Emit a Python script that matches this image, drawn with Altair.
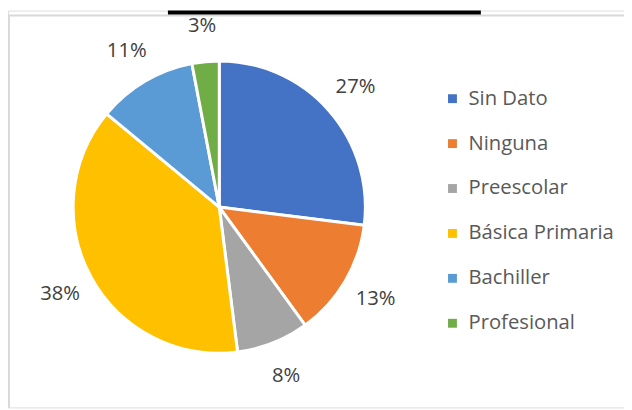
import altair as alt
import pandas as pd

categories = ["Sin Dato", "Ninguna", "Preescolar", "Básica Primaria", "Bachiller", "Profesional"]
values = [27, 13, 8, 38, 11, 3]
labels = ["27%", "13%", "8%", "38%", "11%", "3%"]
colors = ["#4472C4", "#ED7D31", "#A5A5A5", "#FFC000", "#5B9BD5", "#70AD47"]

df = pd.DataFrame({
    "cat": categories,
    "value": values,
    "label": labels,
    "idx": list(range(len(categories))),
})

W, H = 624, 402
CX, CY = 214, 199
FONT = "Open Sans"
FS = 20.5

base = alt.Chart(df).encode(
    theta=alt.Theta("value:Q", stack=True),
    order=alt.Order("idx:Q", sort="ascending"),
)

pie = base.mark_arc(outerRadius=148, stroke="white", strokeWidth=3).encode(
    x=alt.value(CX), y=alt.value(CY),
    color=alt.Color(
        "cat:N",
        scale=alt.Scale(domain=categories, range=colors),
        sort=categories,
        legend=alt.Legend(
            title=None, orient="none", legendX=440, legendY=79,
            symbolType="square", symbolSize=81, symbolStrokeWidth=0,
            labelFont=FONT, labelFontSize=FS, labelColor="#595959",
            rowPadding=24.5, labelOffset=6, padding=0,
        ),
    ),
)

text = base.mark_text(font=FONT, fontSize=FS, color="#404040", baseline="middle", align="center").encode(
    x=alt.value(CX), y=alt.value(CY),
    radius=alt.value(184),
    text="label:N",
)

deco = pd.DataFrame({"k": [0]})
bar = alt.Chart(deco).mark_rect(color="black").encode(
    x=alt.value(162), x2=alt.value(479), y=alt.value(0), y2=alt.value(4)
)
top_line = alt.Chart(deco).mark_rule(color="#d9d9d9", strokeWidth=2).encode(
    x=alt.value(0), x2=alt.value(W), y=alt.value(5)
)
left_line = alt.Chart(deco).mark_rule(color="#d9d9d9", strokeWidth=2).encode(
    x=alt.value(1), y=alt.value(5), y2=alt.value(H)
)

chart = alt.layer(top_line, left_line, bar, pie, text).properties(
    width=W, height=H, padding=0, autosize=alt.AutoSizeParams(type="none")
).configure_view(stroke=None).configure(background="white")

chart.save("out.html", embed_options={"renderer": "svg", "actions": False})
